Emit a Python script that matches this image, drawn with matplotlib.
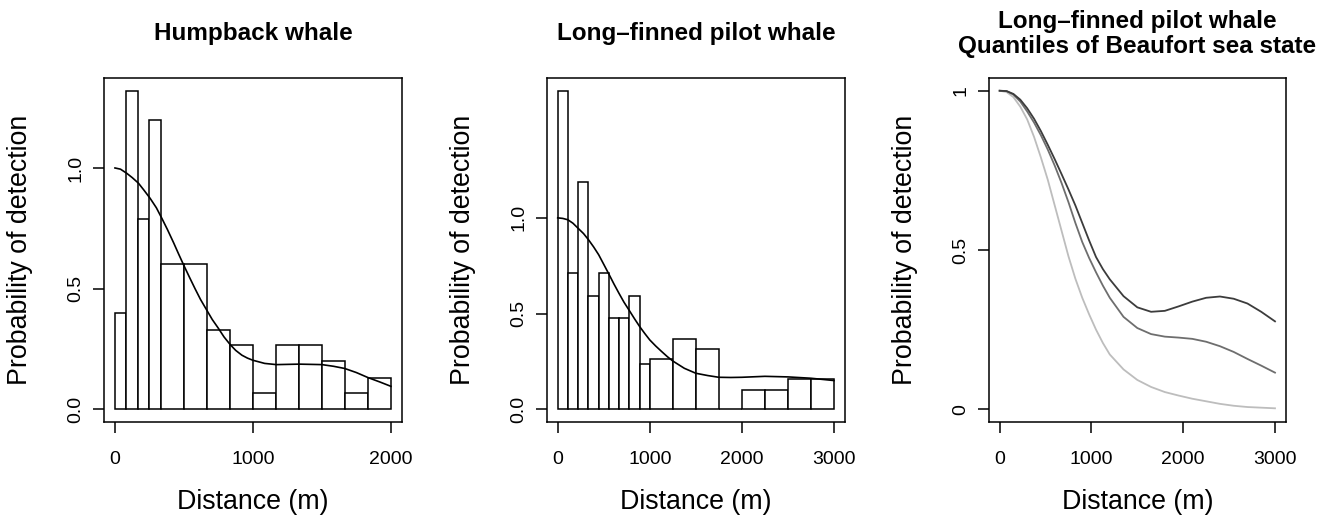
import numpy as np
import matplotlib.pyplot as plt

plt.rcParams['font.family'] = ['Liberation Sans', 'DejaVu Sans']

# Humpback whale: scaled histogram of distances and fitted detection function
hump_edges = [0, 83.3, 166.7, 250, 333.3, 500, 666.7, 833.3, 1000,
              1166.7, 1333.3, 1500, 1666.7, 1833.3, 2000]
hump_heights = [0.40, 1.32, 0.79, 1.20, 0.60, 0.60, 0.33, 0.265, 0.068,
                0.265, 0.265, 0.198, 0.068, 0.131]
hump_x = [0, 40, 85, 125, 170, 210, 255, 300, 340, 380, 425, 460, 500, 540,
          580, 620, 665, 705, 750, 790, 835, 875, 920, 960, 1000, 1085, 1170,
          1250, 1335, 1420, 1500, 1585, 1665, 1750, 1835, 1920, 2000]
hump_p = [1.0, 0.995, 0.978, 0.96, 0.937, 0.908, 0.874, 0.835, 0.791, 0.745,
          0.69, 0.645, 0.595, 0.547, 0.50, 0.455, 0.411, 0.372, 0.335,
          0.30, 0.268, 0.244, 0.224, 0.212, 0.203, 0.190, 0.185, 0.186,
          0.187, 0.186, 0.185, 0.178, 0.169, 0.152, 0.131, 0.113, 0.095]

# Long-finned pilot whale
pilot_edges = [0, 111.1, 222.2, 333.3, 444.4, 555.6, 666.7, 777.8, 888.9,
               1000, 1250, 1500, 1750, 2000, 2250, 2500, 2750, 3000]
pilot_heights = [1.664, 0.711, 1.188, 0.594, 0.711, 0.476, 0.476, 0.594,
                 0.239, 0.263, 0.369, 0.315, 0.0, 0.101, 0.101, 0.157, 0.157]
pilot_x = [0, 55, 110, 165, 220, 280, 335, 390, 445, 500, 560, 610, 665, 720,
           780, 835, 890, 945, 1000, 1065, 1130, 1190, 1250, 1375, 1500,
           1630, 1750, 1880, 2000, 2250, 2500, 2750, 3000]
pilot_p = [1.0, 0.997, 0.99, 0.972, 0.946, 0.918, 0.885, 0.848, 0.807,
           0.757, 0.702, 0.655, 0.606, 0.559, 0.514, 0.472, 0.432, 0.396,
           0.362, 0.330, 0.301, 0.275, 0.252, 0.214, 0.188, 0.176, 0.167,
           0.166, 0.167, 0.172, 0.169, 0.162, 0.150]

# Pilot whale detection function at quantiles of Beaufort sea state
bf_x = [0, 75, 150, 225, 300, 375, 450, 525, 600, 675, 750, 825, 900, 975,
        1050, 1125, 1200, 1350, 1500, 1650, 1800, 1950, 2100, 2250, 2400,
        2550, 2700, 2850, 3000]
bf_low = [1.0, 0.999, 0.99, 0.972, 0.945, 0.912, 0.873, 0.83, 0.785, 0.738,
          0.69, 0.64, 0.585, 0.53, 0.478, 0.44, 0.408, 0.355, 0.320, 0.306,
          0.309, 0.323, 0.338, 0.350, 0.354, 0.347, 0.332, 0.306, 0.276]
bf_mid = [1.0, 0.999, 0.988, 0.966, 0.935, 0.90, 0.86, 0.815, 0.765, 0.71,
          0.65, 0.585, 0.525, 0.475, 0.43, 0.388, 0.35, 0.29, 0.255, 0.236,
          0.228, 0.225, 0.221, 0.212, 0.198, 0.18, 0.158, 0.137, 0.115]
bf_high = [1.0, 0.996, 0.98, 0.95, 0.91, 0.855, 0.79, 0.72, 0.64, 0.56,
           0.48, 0.41, 0.35, 0.298, 0.25, 0.208, 0.172, 0.125, 0.092, 0.07,
           0.054, 0.043, 0.033, 0.025, 0.017, 0.011, 0.007, 0.005, 0.003]
bf_colors = ['#3c3c3c', '#6e6e6e', '#bdbdbd']


def style_axes(ax, title, xticks, yticks, ylabels, xlim, ylim):
    ax.set_xlim(xlim)
    ax.set_ylim(ylim)
    ax.set_xticks(xticks)
    ax.set_xticklabels([str(t) for t in xticks])
    ax.set_yticks(yticks)
    ax.set_yticklabels(ylabels)
    for s in ax.spines.values():
        s.set_linewidth(1.1)
    ax.tick_params(direction='out', length=8, width=1.1, labelsize=14)
    ax.tick_params(axis='x', pad=13)
    ax.tick_params(axis='y', pad=6, labelrotation=90)
    plt.setp(ax.get_yticklabels(), va='center')
    ax.set_xlabel('Distance (m)', fontsize=19.3)
    ax.set_ylabel('Probability of detection', fontsize=19.3)
    ax.xaxis.label.set_va('center')
    ax.yaxis.label.set_va('center')
    ax.xaxis.set_label_coords(0.5, -0.233)
    ax.yaxis.set_label_coords(-0.28, 0.5)
    ax.text(0.5, 1.128, title, transform=ax.transAxes, ha='center',
            va='center', fontsize=17.5, fontweight='bold', linespacing=1.1)


def draw_hist(ax, edges, heights, x, p):
    left = edges[:-1]
    widths = np.diff(edges)
    ax.bar(left, heights, width=widths, align='edge', facecolor='white',
           edgecolor='black', linewidth=1.1, zorder=1)
    ax.plot(x, p, color='black', linewidth=1.2, zorder=2)


fig = plt.figure(figsize=(13.24, 5.19), dpi=100)
ax1 = fig.add_axes([0.0785, 0.1869, 0.2251, 0.6628])
ax2 = fig.add_axes([0.4129, 0.1869, 0.2253, 0.6628])
ax3 = fig.add_axes([0.7467, 0.1869, 0.2246, 0.6628])

draw_hist(ax1, hump_edges, hump_heights, hump_x, hump_p)
style_axes(ax1, 'Humpback whale', [0, 1000, 2000], [0, 0.5, 1.0],
           ['0.0', '0.5', '1.0'], (-80, 2080), (-0.0528, 1.3728))

draw_hist(ax2, pilot_edges, pilot_heights, pilot_x, pilot_p)
style_axes(ax2, 'Long\u2013finned pilot whale', [0, 1000, 2000, 3000],
           [0, 0.5, 1.0], ['0.0', '0.5', '1.0'], (-120, 3120),
           (-0.0666, 1.7306))

for p, c in zip([bf_high, bf_mid, bf_low], bf_colors[::-1]):
    ax3.plot(bf_x, p, color=c, linewidth=1.3)
style_axes(ax3, 'Long\u2013finned pilot whale\nQuantiles of Beaufort sea state',
           [0, 1000, 2000, 3000], [0, 0.5, 1], ['0', '0.5', '1'],
           (-120, 3120), (-0.04, 1.04))

fig.savefig('out.png', dpi=100)
